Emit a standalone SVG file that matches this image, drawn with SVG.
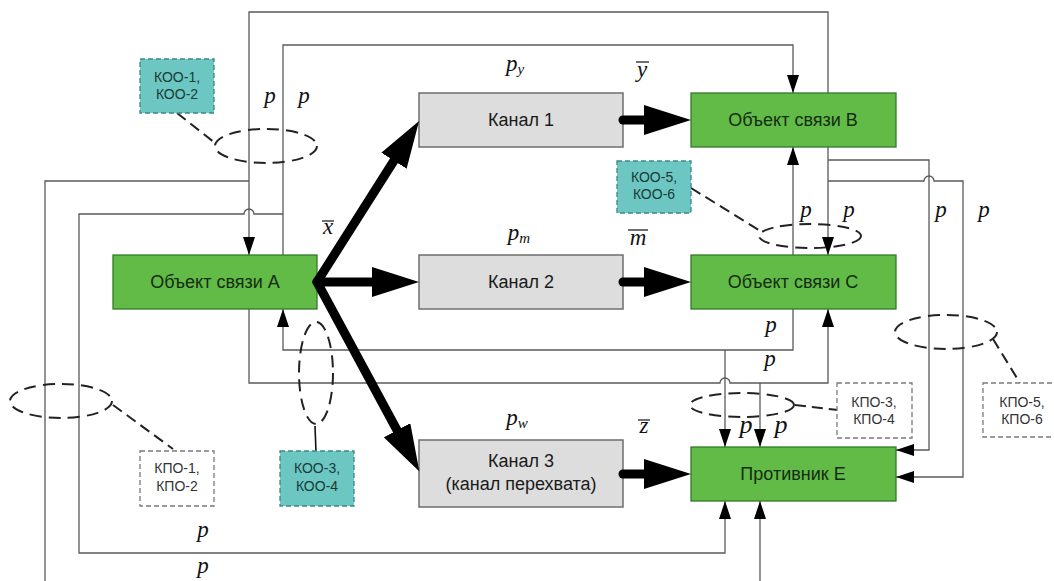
<svg xmlns="http://www.w3.org/2000/svg" width="1054" height="581" viewBox="0 0 1054 581">
  <style>
    .ln { fill: none; stroke: #5a5a5a; stroke-width: 1.3; }
    .flow { fill: none; stroke: #000; stroke-width: 9; stroke-linecap: round; }
    .dash { fill: none; stroke: #222; stroke-width: 2; stroke-dasharray: 11 6; }
    .grp { fill: none; stroke: #222; stroke-width: 2; stroke-dasharray: 12 7; }
    .obj { fill: #62bb46; stroke: #347a2c; stroke-width: 1.3; }
    .chan { fill: #dcdddc; stroke: #6e6e6e; stroke-width: 1.5; }
    .koo { fill: #6cc6c1; stroke: #3a8984; stroke-width: 1.3; stroke-dasharray: 5 3; }
    .kpo { fill: #fff; stroke: #7a7a7a; stroke-width: 1.3; stroke-dasharray: 5 3; }
    .t { font-family: "Liberation Sans", Arial, sans-serif; font-size: 18px; text-anchor: middle; fill: #1a1a1a; }
    .to { font-family: "Liberation Sans", Arial, sans-serif; font-size: 18px; text-anchor: middle; fill: #142c14; }
    .ts { font-family: "Liberation Sans", Arial, sans-serif; font-size: 14px; text-anchor: middle; fill: #1a3a38; }
    .tk { font-family: "Liberation Sans", Arial, sans-serif; font-size: 14px; text-anchor: middle; fill: #333; }
    .p { font-family: "Liberation Serif", "Times New Roman", serif; font-style: italic; font-size: 23px; text-anchor: middle; fill: #111; }
    .pb { font-family: "Liberation Serif", "Times New Roman", serif; font-style: italic; font-size: 26px; text-anchor: middle; fill: #111; }
    .ov { stroke: #111; stroke-width: 1.2; }
  </style>
  <defs>
    <marker id="tip" markerUnits="userSpaceOnUse" viewBox="0 0 18 12" markerWidth="18" markerHeight="12" refX="18" refY="6" orient="auto-start-reverse">
      <path d="M0,0 L18,6 L0,12 Z" fill="#000"/>
    </marker>
    <marker id="big" markerUnits="userSpaceOnUse" viewBox="0 0 47 30" markerWidth="47" markerHeight="30" refX="2" refY="15" orient="auto">
      <path d="M0,0 L47,15 L0,30 Z" fill="#000"/>
    </marker>
  </defs>

  <!-- thin signalling lines (drawn under the nodes) -->
  <g id="links">
    <path class="ln" d="M249,255 V12 H828 V255" marker-start="url(#tip)" marker-end="url(#tip)"/>
    <path class="ln" d="M283,255 V45 H793 V93" marker-end="url(#tip)"/>
    <path class="ln" d="M283,309 V350 H793 V147" marker-start="url(#tip)" marker-end="url(#tip)"/>
    <path class="ln" d="M249,309 V383 H720 a5,5 0 0 1 10,0 H828 V309" marker-end="url(#tip)"/>
    <path class="ln" d="M249,181 H45 V581"/>
    <path class="ln" d="M283,214 H254 a5,5 0 0 0 -10,0 H79 V553 H725 V501" marker-end="url(#tip)"/>
    <path class="ln" d="M760,581 V501" marker-end="url(#tip)"/>
    <path class="ln" d="M725,350 V447" marker-end="url(#tip)"/>
    <path class="ln" d="M760,383 V447" marker-end="url(#tip)"/>
    <path class="ln" d="M828,160 H929 V450 H896" marker-end="url(#tip)"/>
    <path class="ln" d="M828,181 H924 a5,5 0 0 1 10,0 H963 V477 H896" marker-end="url(#tip)"/>
  </g>

  <!-- communicating parties -->
  <g id="nodeA">
    <rect class="obj" x="113" y="255" width="204" height="54"/>
    <text class="to" x="215" y="288">Объект связи A</text>
  </g>
  <g id="nodeB">
    <rect class="obj" x="691" y="93" width="205" height="54"/>
    <text class="to" x="793" y="126">Объект связи B</text>
  </g>
  <g id="nodeC">
    <rect class="obj" x="691" y="255" width="205" height="54"/>
    <text class="to" x="793" y="288">Объект связи C</text>
  </g>
  <g id="nodeE">
    <rect class="obj" x="691" y="447" width="205" height="54"/>
    <text class="to" x="793" y="480">Противник E</text>
  </g>

  <!-- channels -->
  <g id="chan1">
    <rect class="chan" x="419" y="93" width="204" height="54"/>
    <text class="t" x="521" y="126">Канал 1</text>
  </g>
  <g id="chan2">
    <rect class="chan" x="419" y="255" width="204" height="54"/>
    <text class="t" x="521" y="288">Канал 2</text>
  </g>
  <g id="chan3">
    <rect class="chan" x="419" y="440" width="204" height="67"/>
    <text class="t" x="521" y="467">Канал 3</text>
    <text class="t" x="521" y="490">(канал перехвата)</text>
  </g>

  <!-- main message flows -->
  <g id="flows">
    <path class="flow" d="M317,282 L395,159" marker-end="url(#big)"/>
    <path class="flow" d="M317,282 L374,282" marker-end="url(#big)"/>
    <path class="flow" d="M317,282 L398,432" marker-end="url(#big)"/>
    <path class="flow" d="M623,120 L646,120" marker-end="url(#big)"/>
    <path class="flow" d="M623,282 L646,282" marker-end="url(#big)"/>
    <path class="flow" d="M623,474 L646,474" marker-end="url(#big)"/>
  </g>

  <!-- grouped line bundles and their callouts -->
  <g id="bundles">
    <ellipse class="grp" cx="266" cy="146" rx="51" ry="17"/>
    <ellipse class="grp" cx="810" cy="236" rx="51" ry="12"/>
    <ellipse class="grp" cx="316" cy="373" rx="17" ry="51"/>
    <ellipse class="grp" cx="61" cy="401" rx="51" ry="17"/>
    <ellipse class="grp" cx="742" cy="405" rx="52" ry="12"/>
    <ellipse class="grp" cx="946" cy="332" rx="51" ry="17"/>
    <path class="dash" d="M177,113 L215,143"/>
    <path class="dash" d="M691,188 L762,232"/>
    <path class="dash" d="M113,405 L173,449"/>
    <path class="dash" d="M795,405 L838,410"/>
    <path class="dash" d="M993,339 L1020,383"/>
    <path d="M315,426 L317,478" stroke="#111" stroke-width="1.6" fill="none"/>
  </g>

  <g id="koo12">
    <rect class="koo" x="140" y="59" width="74" height="54"/>
    <text class="ts" x="177" y="82">КОО-1,</text>
    <text class="ts" x="177" y="99">КОО-2</text>
  </g>
  <g id="koo56">
    <rect class="koo" x="617" y="161" width="74" height="52"/>
    <text class="ts" x="654" y="182">КОО-5,</text>
    <text class="ts" x="654" y="199">КОО-6</text>
  </g>
  <g id="koo34">
    <rect class="koo" x="280" y="451" width="74" height="55"/>
    <text class="ts" x="317" y="473">КОО-3,</text>
    <text class="ts" x="317" y="491">КОО-4</text>
  </g>
  <g id="kpo12">
    <rect class="kpo" x="140" y="451" width="74" height="55"/>
    <text class="tk" x="177" y="473">КПО-1,</text>
    <text class="tk" x="177" y="491">КПО-2</text>
  </g>
  <g id="kpo34">
    <rect class="kpo" x="837" y="383" width="75" height="55"/>
    <text class="tk" x="874" y="407">КПО-3,</text>
    <text class="tk" x="874" y="424">КПО-4</text>
  </g>
  <g id="kpo56">
    <rect class="kpo" x="983" y="383" width="75" height="54"/>
    <text class="tk" x="1022" y="407">КПО-5,</text>
    <text class="tk" x="1022" y="424">КПО-6</text>
  </g>

  <!-- symbols -->
  <g id="labels">
    <text class="p" x="270" y="103">p</text>
    <text class="p" x="304" y="103">p</text>
    <text class="p" x="515" y="71">p<tspan font-size="15" dy="3">y</tspan></text>
    <text class="p" x="519" y="240">p<tspan font-size="15" dy="3">m</tspan></text>
    <text class="p" x="517" y="425">p<tspan font-size="15" dy="3">w</tspan></text>
    <text class="p" x="642" y="77">y</text>
    <line class="ov" x1="636" y1="62" x2="649" y2="62"/>
    <text class="p" x="328" y="234">x</text>
    <line class="ov" x1="322" y1="221" x2="334" y2="221"/>
    <text class="p" x="638" y="245">m</text>
    <line class="ov" x1="628" y1="230" x2="648" y2="230"/>
    <text class="p" x="644" y="433">z</text>
    <line class="ov" x1="638" y1="420" x2="650" y2="420"/>
    <text class="p" x="806" y="217">p</text>
    <text class="p" x="849" y="217">p</text>
    <text class="p" x="941" y="217">p</text>
    <text class="p" x="984" y="217">p</text>
    <text class="p" x="771" y="332">p</text>
    <text class="p" x="770" y="366">p</text>
    <text class="pb" x="746" y="433">p</text>
    <text class="pb" x="781" y="433">p</text>
    <text class="p" x="203" y="537">p</text>
    <text class="p" x="203" y="573">p</text>
  </g>
</svg>
